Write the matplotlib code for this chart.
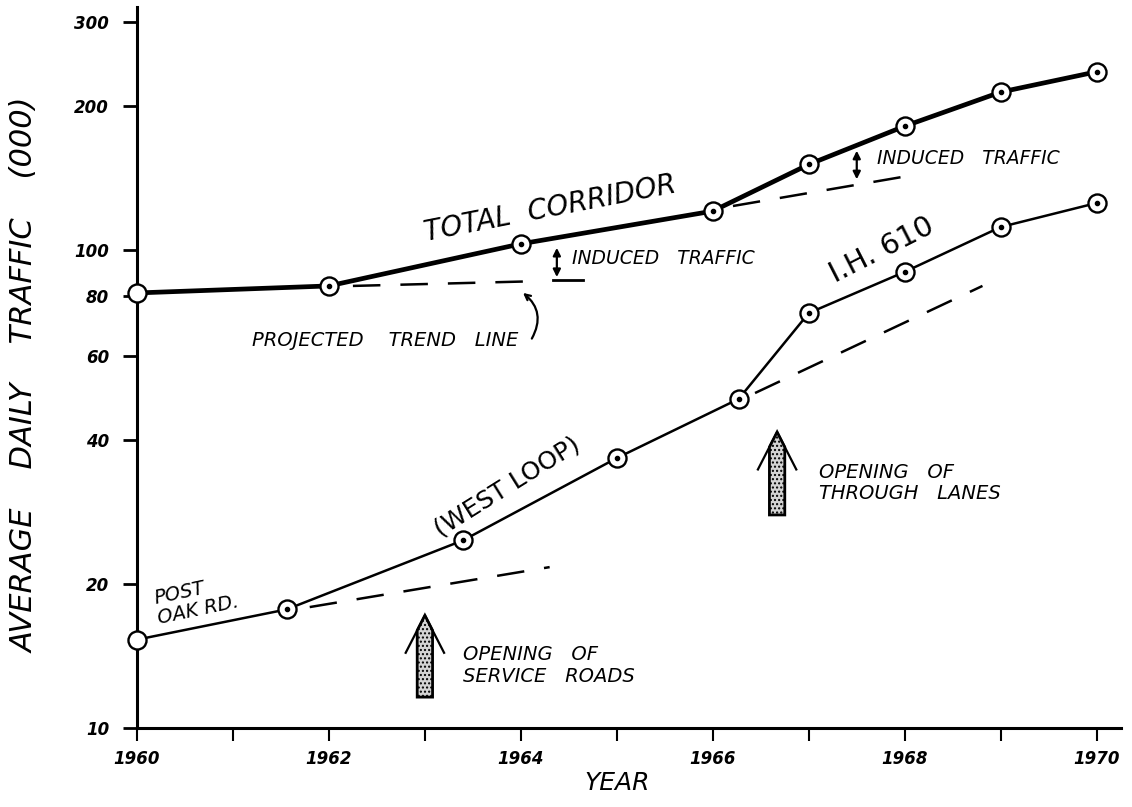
import numpy as np
import matplotlib.pyplot as plt
from matplotlib.patches import Polygon

# Traffic volumes, thousands of vehicles per day
corridor_years = [1960, 1962, 1964, 1966, 1967, 1968, 1969, 1970]
corridor_adt = [81.3, 84.1, 103, 120.6, 151, 181.6, 214, 236]

ih610_years = [1960, 1961.56, 1963.4, 1965, 1966.27, 1967, 1968, 1969, 1970]
ih610_adt = [15.3, 17.7, 24.7, 36.7, 48.8, 73.8, 90, 111.7, 125.4]

# projected trend lines (dashed)
trend_corridor_1 = ([1962.25, 1964.12], [84.1, 86.0])
trend_corridor_2 = ([1966.21, 1968.03], [123.6, 142.8])
trend_ih_1 = ([1961.8, 1964.3], [17.9, 21.7])
trend_ih_2 = ([1966.44, 1968.81], [50.2, 84.1])

# opening arrows: year, base value, tip value
openings = [(1963.0, 11.6, 17.2), (1966.67, 27.9, 41.6)]

y_ticks = [10, 20, 40, 60, 80, 100, 200, 300]
x_labels = [1960, 1962, 1964, 1966, 1968, 1970]

fig = plt.figure(figsize=(11.32, 8.07), dpi=100)
ax = fig.add_axes([0.121, 0.098, 0.869, 0.893])
ax.set_yscale('log')
ax.set_xlim(1960, 1970.25)
ax.set_ylim(10, 322)

for s in ['top', 'right']:
    ax.spines[s].set_visible(False)
for s in ['left', 'bottom']:
    ax.spines[s].set_linewidth(2.2)
    ax.spines[s].set_clip_on(False)

ax.set_yticks(y_ticks)
ax.set_yticklabels([str(v) for v in y_ticks])
ax.yaxis.set_minor_locator(plt.NullLocator())
ax.set_xticks(range(1960, 1971))
ax.set_xticklabels([str(y) if y in x_labels else '' for y in range(1960, 1971)])
ax.tick_params(axis='y', direction='out', length=10, width=2, pad=10)
ax.tick_params(axis='x', direction='out', length=9, width=1.5, pad=7)
for lab in ax.get_xticklabels() + ax.get_yticklabels():
    lab.set_fontstyle('italic')
    lab.set_fontweight('bold')
    lab.set_fontsize(12)

# main series
ax.plot(corridor_years, corridor_adt, color='black', lw=3.4, zorder=3)
ax.plot(ih610_years, ih610_adt, color='black', lw=1.8, zorder=3)
for xs, ys in [(corridor_years, corridor_adt), (ih610_years, ih610_adt)]:
    ax.plot(xs, ys, 'o', ms=13, mfc='white', mec='black', mew=1.7, zorder=4, clip_on=False)
    ax.plot(xs[1:], ys[1:], 'o', ms=3, color='black', zorder=5)

# dashed trend lines
for xs, ys in [trend_corridor_1, trend_corridor_2, trend_ih_1, trend_ih_2]:
    ax.plot(xs, ys, color='black', lw=1.8, dashes=(11, 8), zorder=2)

# induced traffic markers
ax.annotate('', xy=(1964.375, 86.6), xytext=(1964.375, 102.4),
            arrowprops=dict(arrowstyle='<|-|>', color='black', lw=1.6, mutation_scale=11))
ax.plot([1964.33, 1964.65], [86.6, 86.6], color='black', lw=2)
ax.annotate('', xy=(1967.5, 138.7), xytext=(1967.5, 163.5),
            arrowprops=dict(arrowstyle='<|-|>', color='black', lw=1.6, mutation_scale=11))

# projected trend line pointer
ax.annotate('', xy=(1964.0, 82.0), xytext=(1964.1, 64.5),
            arrowprops=dict(arrowstyle='->', color='black', lw=1.6,
                            connectionstyle='arc3,rad=0.45'))

# opening arrows (stippled shaft, open head)
for yr, lo, hi in openings:
    w = 0.08
    neck = hi * 0.93
    shaft = Polygon([[yr - w, lo], [yr - w, neck], [yr, hi], [yr + w, neck], [yr + w, lo]],
                    closed=True, facecolor='#d4d4d4', edgecolor='black', lw=2,
                    hatch='....', zorder=3)
    ax.add_patch(shaft)
    ax.plot([yr - 0.2, yr, yr + 0.2], [hi * 0.835, hi, hi * 0.835], color='black', lw=1.6)

txt = dict(color='black', fontstyle='italic')
ax.text(1964.3, 122, 'TOTAL  CORRIDOR', fontsize=20, rotation=11, ha='center', va='center', **txt)
ax.text(1964.53, 96.2, 'INDUCED   TRAFFIC', fontsize=13.5, ha='left', va='center', **txt)
ax.text(1967.71, 155.7, 'INDUCED   TRAFFIC', fontsize=13.5, ha='left', va='center', **txt)
ax.text(1963.97, 64.8, 'PROJECTED    TREND   LINE', fontsize=14, ha='right', va='center', **txt)
ax.text(1967.76, 100, 'I.H. 610', fontsize=21, rotation=27, ha='center', va='center', color='black')
ax.text(1963.86, 31.9, '(WEST LOOP)', fontsize=18, rotation=32, ha='center', va='center', color='black')
ax.text(1960.62, 18.5, 'POST\nOAK RD.', fontsize=14, rotation=12, ha='center', va='center',
        multialignment='left', linespacing=1.1, **txt)
ax.text(1963.4, 13.5, 'OPENING   OF\nSERVICE   ROADS', fontsize=14, ha='left', va='center',
        linespacing=1.15, **txt)
ax.text(1967.11, 32.6, 'OPENING   OF\nTHROUGH   LANES', fontsize=14, ha='left', va='center',
        linespacing=1.15, **txt)

fig.text(0.545, 0.015, 'YEAR', fontsize=18, ha='center', va='bottom', **txt)
fig.text(0.022, 0.535, 'AVERAGE    DAILY    TRAFFIC    (000)', fontsize=22, rotation=90,
         ha='center', va='center', **txt)

fig.savefig('out.png', dpi=100, facecolor='white')
